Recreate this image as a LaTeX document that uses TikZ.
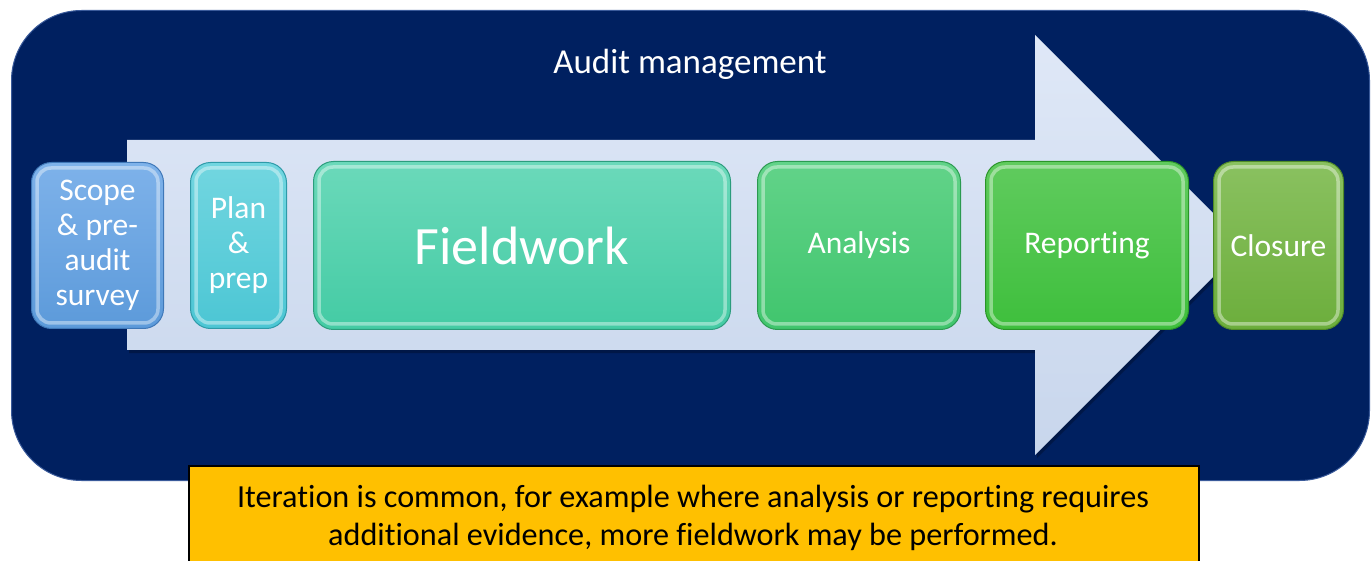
\documentclass[tikz,border=0pt]{standalone}
\usepackage{fontspec}
\setmainfont{Carlito}[Ligatures=NoCommon]
\usetikzlibrary{calc}

\definecolor{navy}{HTML}{002060}
\definecolor{navyedge}{HTML}{3A5A9A}
\definecolor{arrowtop}{HTML}{DFE8F7}
\definecolor{arrowbot}{HTML}{C8D6EC}
\definecolor{scopeA}{HTML}{7EB2EA}\definecolor{scopeB}{HTML}{5C9ADA}\definecolor{scopeE}{HTML}{3F78B8}
\definecolor{planA}{HTML}{72D6E0}\definecolor{planB}{HTML}{4CC6D4}\definecolor{planE}{HTML}{2E9AA8}
\definecolor{fieldA}{HTML}{6BD9BA}\definecolor{fieldB}{HTML}{44CBA4}\definecolor{fieldE}{HTML}{2C9C7C}
\definecolor{anaA}{HTML}{62D389}\definecolor{anaB}{HTML}{40C56D}\definecolor{anaE}{HTML}{2B9A50}
\definecolor{repA}{HTML}{60CB5E}\definecolor{repB}{HTML}{3EBF3C}\definecolor{repE}{HTML}{2A9428}
\definecolor{cloA}{HTML}{8AC160}\definecolor{cloB}{HTML}{6CAE3C}\definecolor{cloE}{HTML}{4F8A26}
\definecolor{notefill}{HTML}{FFC000}

\tikzset{
  stage/.style n args={3}{
    rectangle, rounded corners=20pt, inner sep=0pt,
    top color=#1, bottom color=#2, draw=#3, line width=1pt,
    anchor=north west
  },
  gloss/.style={white, opacity=.4, line width=3.5pt, rounded corners=14pt},
  stagetext/.style={text=white, align=center, font=\fontsize{31.5}{35}\selectfont},
}
% bevel highlight just inside a stage box
\newcommand\bevel[1]{%
  \draw[gloss] ($(#1.north west)+(6,6)$) rectangle ($(#1.south east)+(-6,-6)$);}

\begin{document}
\begin{tikzpicture}[x=1pt,y=-1pt]
  \useasboundingbox (0,0) rectangle (1371,561);
  \clip (0,0) rectangle (1371,561);

  % background panel
  \node[rectangle, rounded corners=70pt, fill=navy, draw=navyedge, line width=1pt,
        minimum width=1358pt, minimum height=470pt, anchor=north west, inner sep=0pt]
        (panel) at (11,10) {};

  \node[text=white, font=\fontsize{35}{40}\selectfont] (title) at (690,64) {Audit management};

  % process arrow with a soft shadow
  \fill[black, opacity=.25]
    (129,143) -- (1037,143) -- (1037,38) -- (1247,248) -- (1037,458) -- (1037,353) -- (129,353) -- cycle;
  \path[top color=arrowtop, bottom color=arrowbot]
    (127,140) -- (1035,140) -- (1035,35) -- (1245,245) -- (1035,455) -- (1035,350) -- (127,350) -- cycle;

  % stages
  \node[stage={scopeA}{scopeB}{scopeE}, minimum width=132pt, minimum height=166pt]
    (scope) at (31,162) {};
  \bevel{scope}
  \node[stagetext] (scopetext) at ($(scope.center)+(0,0)$) {Scope\\\& pre-\\audit\\survey};

  \node[stage={planA}{planB}{planE}, minimum width=96pt, minimum height=166pt]
    (plan) at (190,162) {};
  \bevel{plan}
  \node[stagetext] (plantext) at (plan.center) {Plan\\\&\\prep};

  \node[stage={fieldA}{fieldB}{fieldE}, minimum width=417pt, minimum height=168pt]
    (field) at (313,161) {};
  \bevel{field}
  \node[text=white, font=\fontsize{54}{60}\selectfont] (fieldtext) at (field.center) {Fieldwork};

  \node[stage={anaA}{anaB}{anaE}, minimum width=203pt, minimum height=168pt]
    (analysis) at (757,161) {};
  \bevel{analysis}
  \node[stagetext] (analysistext) at (analysis.center) {Analysis};

  \node[stage={repA}{repB}{repE}, minimum width=203pt, minimum height=168pt]
    (reporting) at (985,161) {};
  \bevel{reporting}
  \node[stagetext] (reportingtext) at (reporting.center) {Reporting};

  \node[stage={cloA}{cloB}{cloE}, minimum width=130pt, minimum height=168pt]
    (closure) at (1213,161) {};
  \bevel{closure}
  \node[stagetext] (closuretext) at (closure.center) {Closure};

  % note
  \node[rectangle, fill=notefill, draw=black, line width=1.5pt, inner sep=0pt,
        minimum width=1010pt, minimum height=104pt, anchor=north west]
        (note) at (188,465) {};
  \node[font=\fontsize{32.2}{38}\selectfont, align=center, text=black]
        (notetext) at (693,518) {Iteration is common, for example where analysis or reporting requires\\additional evidence, more fieldwork may be performed.};
\end{tikzpicture}
\end{document}
